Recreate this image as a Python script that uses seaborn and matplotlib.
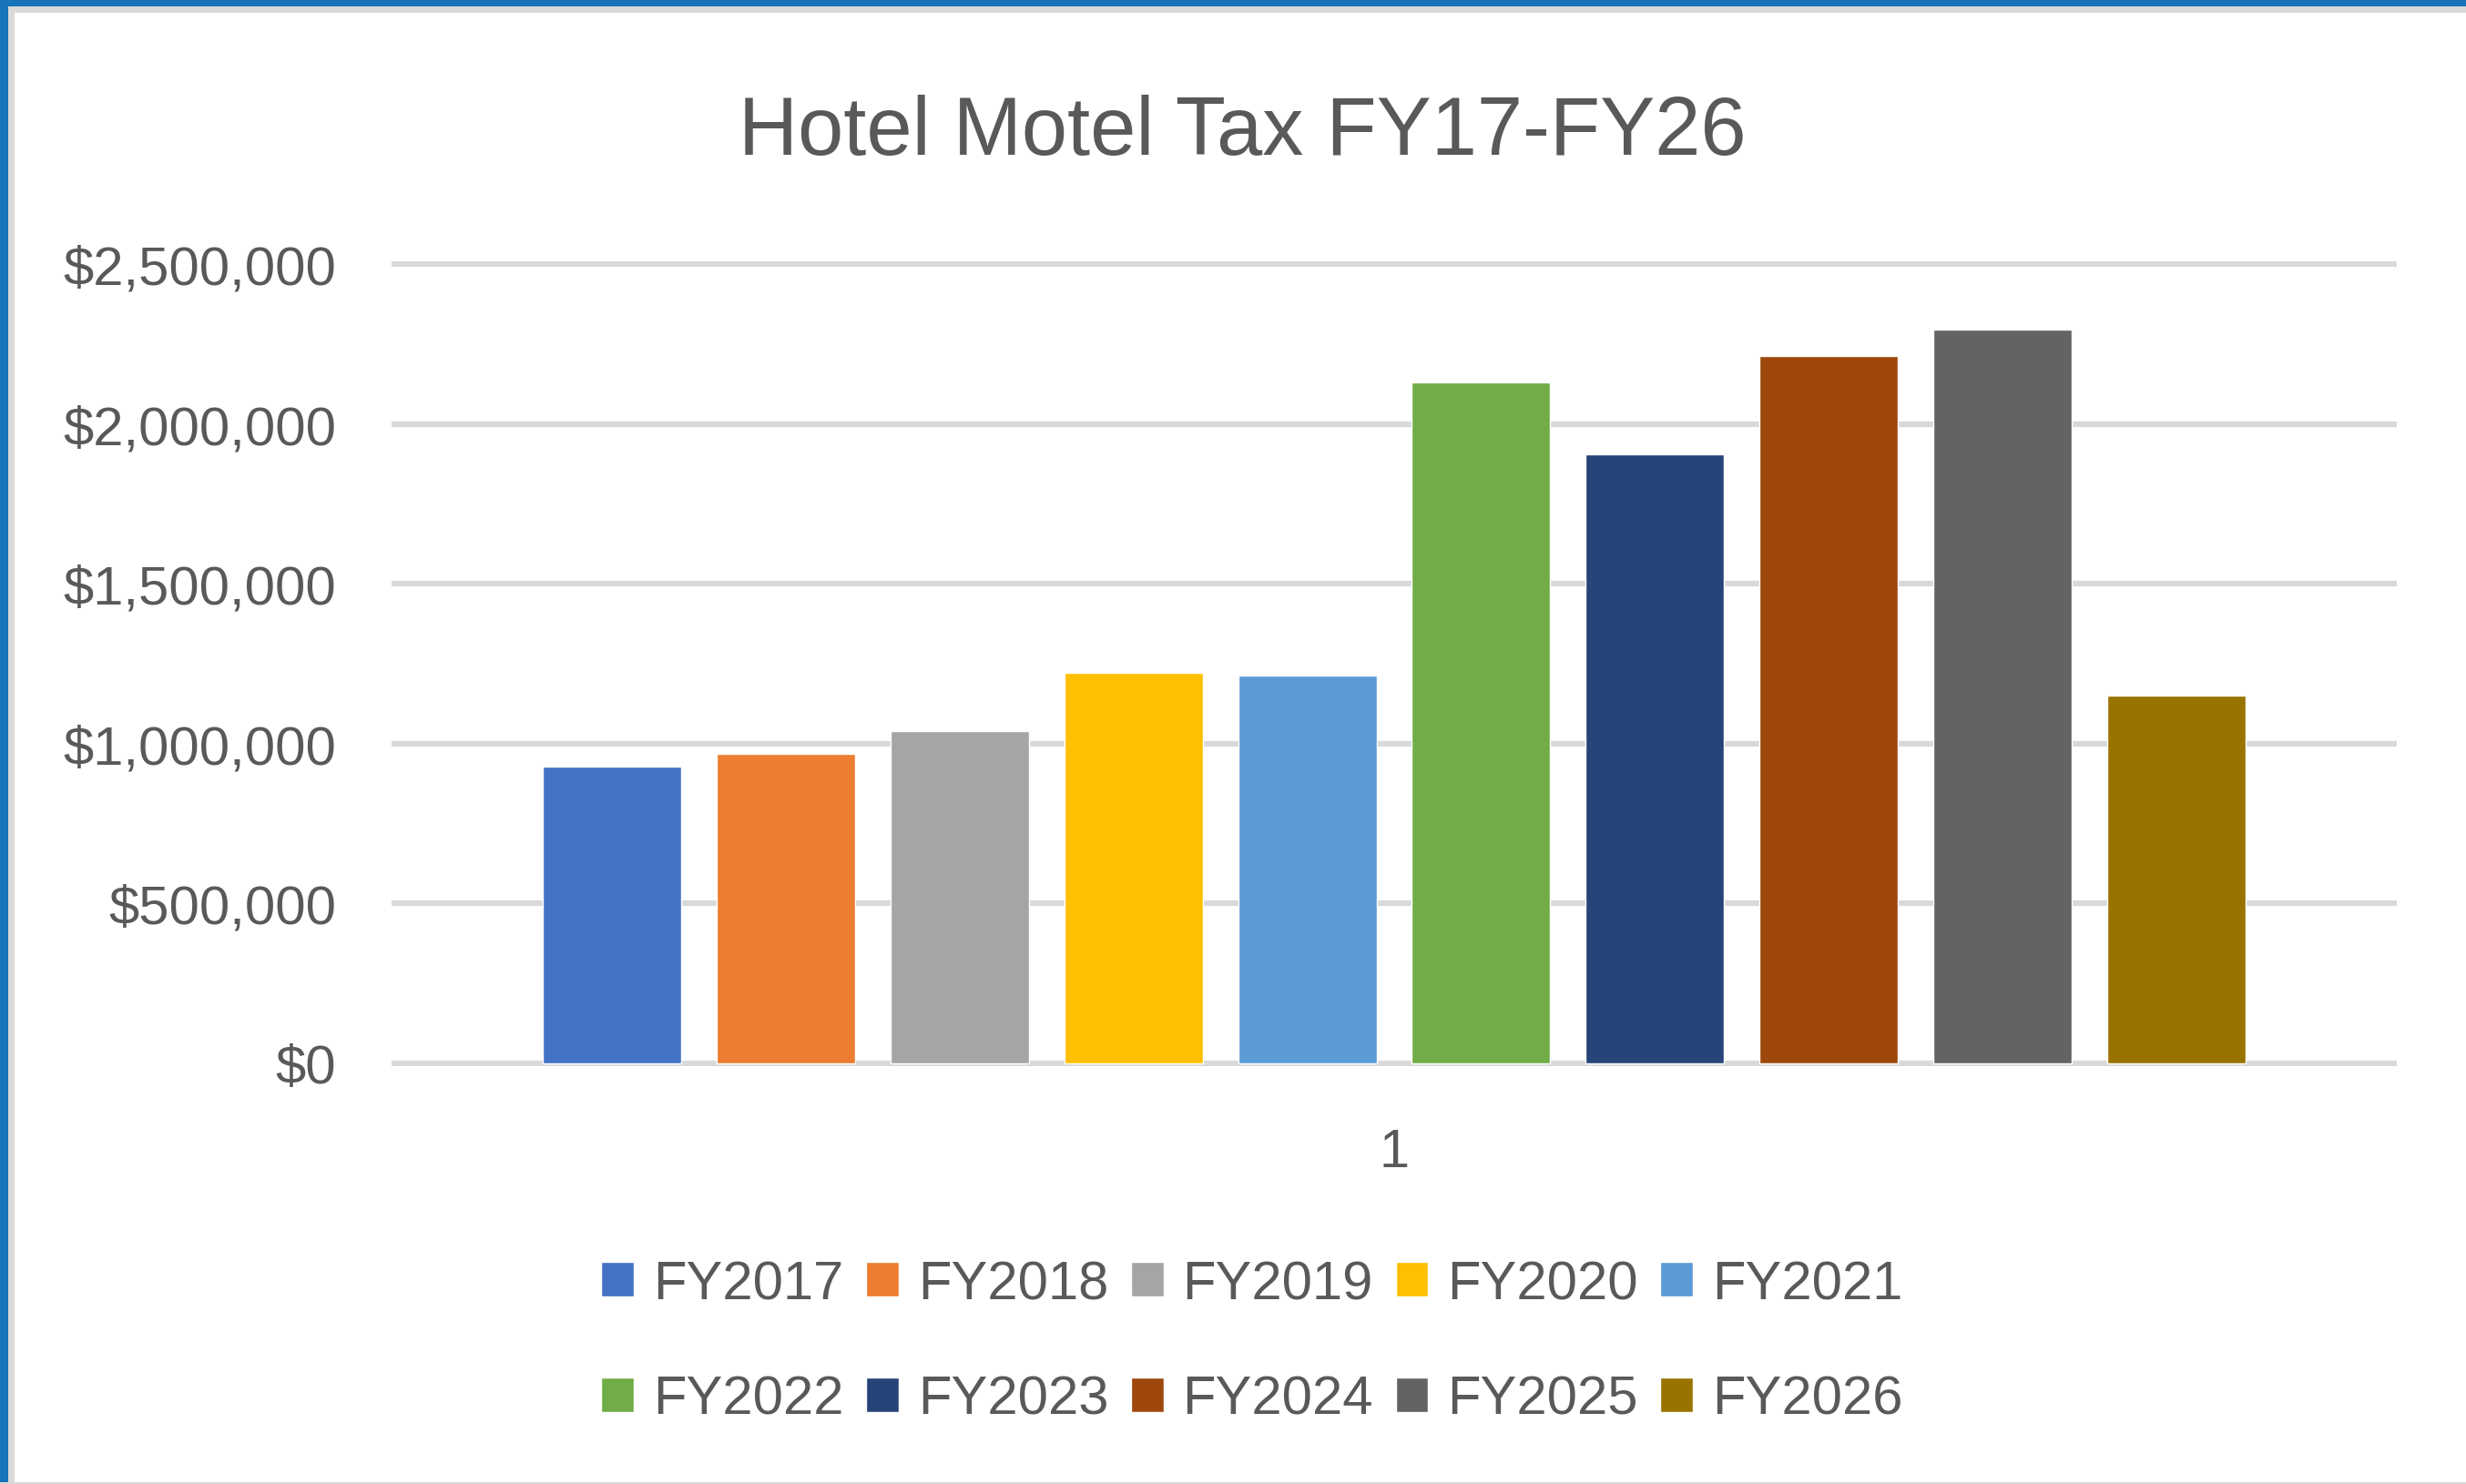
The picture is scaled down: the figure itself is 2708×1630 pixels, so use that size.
import matplotlib
matplotlib.use("Agg")
import matplotlib.pyplot as plt
from matplotlib.patches import Rectangle
from matplotlib.ticker import StrMethodFormatter
import seaborn as sns
import pandas as pd

# values
years = ['FY2017', 'FY2018', 'FY2019', 'FY2020', 'FY2021',
         'FY2022', 'FY2023', 'FY2024', 'FY2025', 'FY2026']
tax = [927000, 967000, 1040000, 1221000, 1213000,
       2130000, 1906000, 2212000, 2294000, 1151000]
colors = ['#4472C4', '#ED7D31', '#A5A5A5', '#FFC000', '#5B9BD5',
          '#70AD47', '#264478', '#9E480E', '#636363', '#997300']

df = pd.DataFrame({'cat': ['1'] * len(years), 'year': years, 'tax': tax})

sns.set_style('white')
plt.rcParams['font.family'] = ['Liberation Sans', 'DejaVu Sans']
txt = '#595959'

W, H = 2708, 1631
fig = plt.figure(figsize=(W / 100, H / 100), dpi=100)
ax = fig.add_axes([430 / W, 1 - 1172 / H, (2632 - 430) / W, (1172 - 288) / H])

sns.barplot(data=df, x='cat', y='tax', hue='year', palette=colors,
            width=0.867, gap=0.204, saturation=1, ax=ax)

ax.set_ylim(-9000, 2509000)
ax.set_yticks([0, 500000, 1000000, 1500000, 2000000, 2500000])
ax.yaxis.set_major_formatter(StrMethodFormatter('${x:,.0f}'))
ax.yaxis.grid(True, color='#D9D9D9', linewidth=4.5)
ax.set_axisbelow(True)
for s in ax.spines.values():
    s.set_visible(False)
ax.tick_params(axis='y', length=0, pad=44, labelsize=43, labelcolor=txt)
ax.tick_params(axis='x', length=0, pad=48, labelsize=43, labelcolor=txt)
ax.set_xlabel('')
ax.set_ylabel('')

# legend reads row by row: 2017-2021 on top, 2022-2026 below
handles, labels = ax.get_legend_handles_labels()
ax.get_legend().remove()
order = [0, 5, 1, 6, 2, 7, 3, 8, 4, 9]
fig.legend([handles[i] for i in order], [labels[i] for i in order],
           loc='center', bbox_to_anchor=(1375 / W, 1 - 1475 / H),
           ncol=5, frameon=False, fontsize=43, labelcolor=txt,
           handlelength=0.6, handleheight=0.6, handletextpad=0.35,
           columnspacing=0.41, labelspacing=1.2)

fig.text(1364 / W, 1 - 170 / H, 'Hotel Motel Tax FY17-FY26', ha='center',
         va='baseline', fontsize=65, color=txt)

# chart frame
def px_rect(x, y, w, h, c):
    fig.add_artist(Rectangle((x / W, 1 - (y + h) / H), w / W, h / H,
                             transform=fig.transFigure, color=c, lw=0))

px_rect(9, 8, W, 7, '#D9D9D9')
px_rect(9, 8, 7, H, '#D9D9D9')
px_rect(0, 0, W, 8, '#1773BA')
px_rect(0, 0, 9, H, '#1773BA')
px_rect(0, H - 2, W, 2, '#D9D9D9')

fig.savefig('out.png', dpi=100)
